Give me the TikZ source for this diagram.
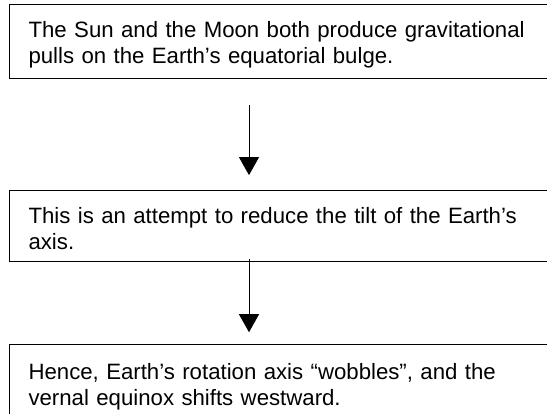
\documentclass[tikz,border=0pt]{standalone}
\usepackage{fontspec}
\setmainfont{Liberation Sans}
\usetikzlibrary{positioning,arrows.meta}

% struts that fix where the text sits in each box
\newcommand\boxtop{\rule{0pt}{33pt}}
\newcommand\boxbot[1]{\rule[-#1]{0pt}{#1}}

\begin{document}
\begin{tikzpicture}[x=1pt,y=1pt,
    every node/.style={font=\fontsize{22.2}{26}\selectfont},
    stepbox/.style={draw, line width=1.1pt, rectangle, anchor=north west,
      text width=507pt, align=left, inner xsep=19pt, inner ysep=0pt},
    flow/.style={line width=0.9pt, -{Triangle[length=18pt,width=20pt]}}]

\useasboundingbox (0,0) rectangle (547,-413);

% ==== three boxes, top to bottom ====
\node[stepbox] (sunmoon) at (9,-4)
  {\boxtop The Sun and the Moon both produce gravitational\\pulls on the Earth’s equatorial bulge.\boxbot{15pt}};

\node[stepbox, below=111pt of sunmoon.south west, anchor=north west] (tilt)
  {\boxtop This is an attempt to reduce the tilt of the Earth’s\\axis.\boxbot{12pt}};

\node[stepbox, below=82pt of tilt.south west, anchor=north west] (wobble)
  {\rule{0pt}{35pt}Hence, Earth’s rotation axis “wobbles”, and the\\vernal equinox shifts westward.\boxbot{15pt}};

% ==== arrows (first one starts a bit below the box) ====
\coordinate (s1) at ([shift={(240pt,-26pt)}]sunmoon.south west);
\coordinate (s2) at ([shift={(240pt,3pt)}]tilt.south west);

\draw[flow, shorten >=15pt] (s1) -- (s1 |- tilt.north);
\draw[flow, shorten >=12pt] (s2) -- (s2 |- wobble.north);

\end{tikzpicture}
\end{document}
